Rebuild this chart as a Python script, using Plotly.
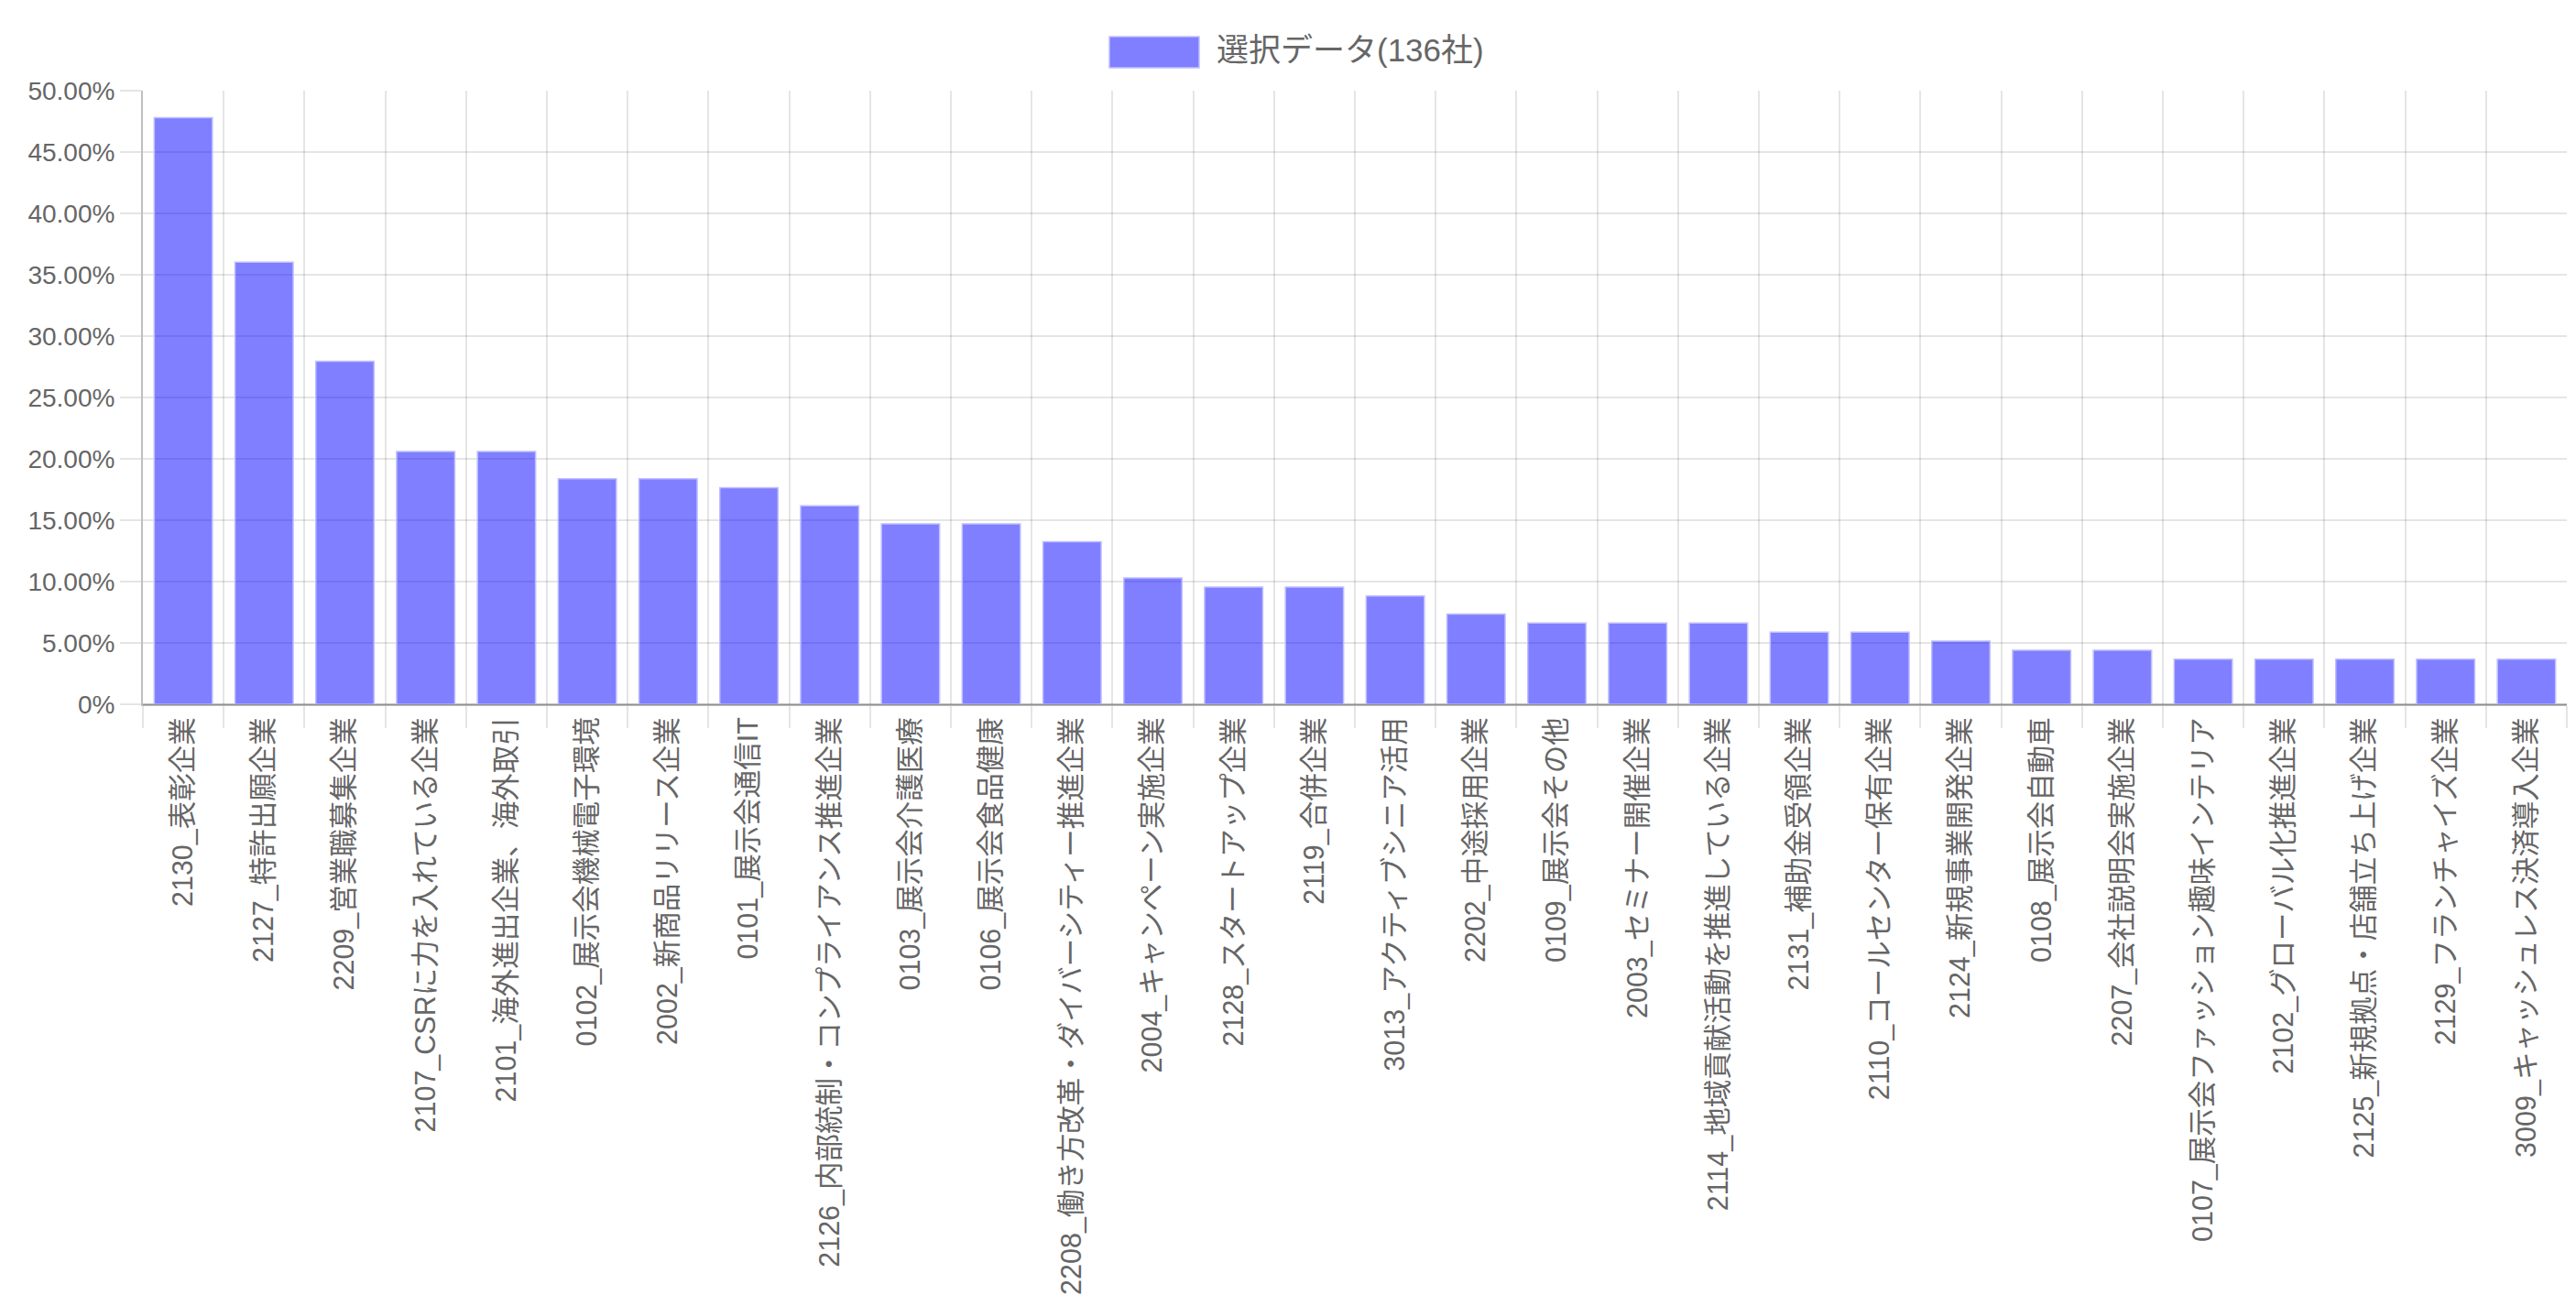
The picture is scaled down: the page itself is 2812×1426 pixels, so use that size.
import plotly.graph_objects as go

categories = [
    "2130_表彰企業",
    "2127_特許出願企業",
    "2209_営業職募集企業",
    "2107_CSRに力を入れている企業",
    "2101_海外進出企業、海外取引",
    "0102_展示会機械電子環境",
    "2002_新商品リリース企業",
    "0101_展示会通信IT",
    "2126_内部統制・コンプライアンス推進企業",
    "0103_展示会介護医療",
    "0106_展示会食品健康",
    "2208_働き方改革・ダイバーシティー推進企業",
    "2004_キャンペーン実施企業",
    "2128_スタートアップ企業",
    "2119_合併企業",
    "3013_アクティブシニア活用",
    "2202_中途採用企業",
    "0109_展示会その他",
    "2003_セミナー開催企業",
    "2114_地域貢献活動を推進している企業",
    "2131_補助金受領企業",
    "2110_コールセンター保有企業",
    "2124_新規事業開発企業",
    "0108_展示会自動車",
    "2207_会社説明会実施企業",
    "0107_展示会ファッション趣味インテリア",
    "2102_グローバル化推進企業",
    "2125_新規拠点・店舗立ち上げ企業",
    "2129_フランチャイズ企業",
    "3009_キャッシュレス決済導入企業",
]

values_pct = [
    47.79, 36.03, 27.94, 20.59, 20.59, 18.38, 18.38, 17.65, 16.18, 14.71,
    14.71, 13.24, 10.29, 9.56, 9.56, 8.82, 7.35, 6.62, 6.62, 6.62,
    5.88, 5.88, 5.15, 4.41, 4.41, 3.68, 3.68, 3.68, 3.68, 3.68,
]

series_name = "選択データ(136社)"

y_tick_vals = [0, 5, 10, 15, 20, 25, 30, 35, 40, 45, 50]
y_tick_text = ["0%", "5.00%", "10.00%", "15.00%", "20.00%", "25.00%",
               "30.00%", "35.00%", "40.00%", "45.00%", "50.00%"]

FONT = "Liberation Sans, Arial, Noto Sans CJK JP, sans-serif"
GRID = "rgba(0,0,0,0.1)"
AXIS = "rgba(0,0,0,0.25)"
TXT = "#666666"

fig = go.Figure()
fig.add_trace(go.Bar(
    x=categories,
    y=values_pct,
    name=series_name,
    marker=dict(color="rgba(0,0,255,0.5)",
                line=dict(color="rgba(190,190,255,1)", width=1.5)),
    showlegend=False,
))

W, H = 2812, 1426
L, R, T, B = 156, 10, 99, 657
pw = W - L - R
ph = H - T - B

def px_x(x):
    return (x - L) / pw

def px_y(y):
    return (H - B - y) / ph

# legend drawn as a box + label
fig.add_shape(type="rect", xref="paper", yref="paper",
              x0=px_x(1211), x1=px_x(1309), y0=px_y(74), y1=px_y(40),
              fillcolor="rgba(0,0,255,0.5)",
              line=dict(color="rgba(190,190,255,1)", width=1.5))
fig.add_annotation(xref="paper", yref="paper", x=px_x(1326), y=px_y(55),
                   xanchor="left", yanchor="middle", showarrow=False,
                   text=series_name,
                   font=dict(family=FONT, size=35, color=TXT))

fig.update_layout(
    width=W, height=H,
    margin=dict(l=L, r=R, t=T, b=B, pad=0),
    paper_bgcolor="white", plot_bgcolor="white",
    bargap=0.28,
    font=dict(family=FONT, color=TXT),
    xaxis=dict(
        type="category",
        tickson="boundaries",
        showgrid=True, gridcolor=GRID, gridwidth=2,
        ticks="outside", ticklen=24, tickwidth=2, tickcolor=GRID,
        tickangle=-90,
        tickfont=dict(family=FONT, size=30.5, color=TXT),
        showline=True, linecolor=AXIS, linewidth=2,
        automargin=False,
    ),
    yaxis=dict(
        range=[0, 50],
        tickvals=y_tick_vals, ticktext=y_tick_text,
        showgrid=True, gridcolor=GRID, gridwidth=2,
        ticks="outside", ticklen=23, tickwidth=2, tickcolor=GRID,
        tickfont=dict(family=FONT, size=28, color=TXT),
        showline=True, linecolor=AXIS, linewidth=2,
        zeroline=True, zerolinecolor=AXIS, zerolinewidth=2,
        automargin=False,
    ),
)

fig.write_html("out.html")
